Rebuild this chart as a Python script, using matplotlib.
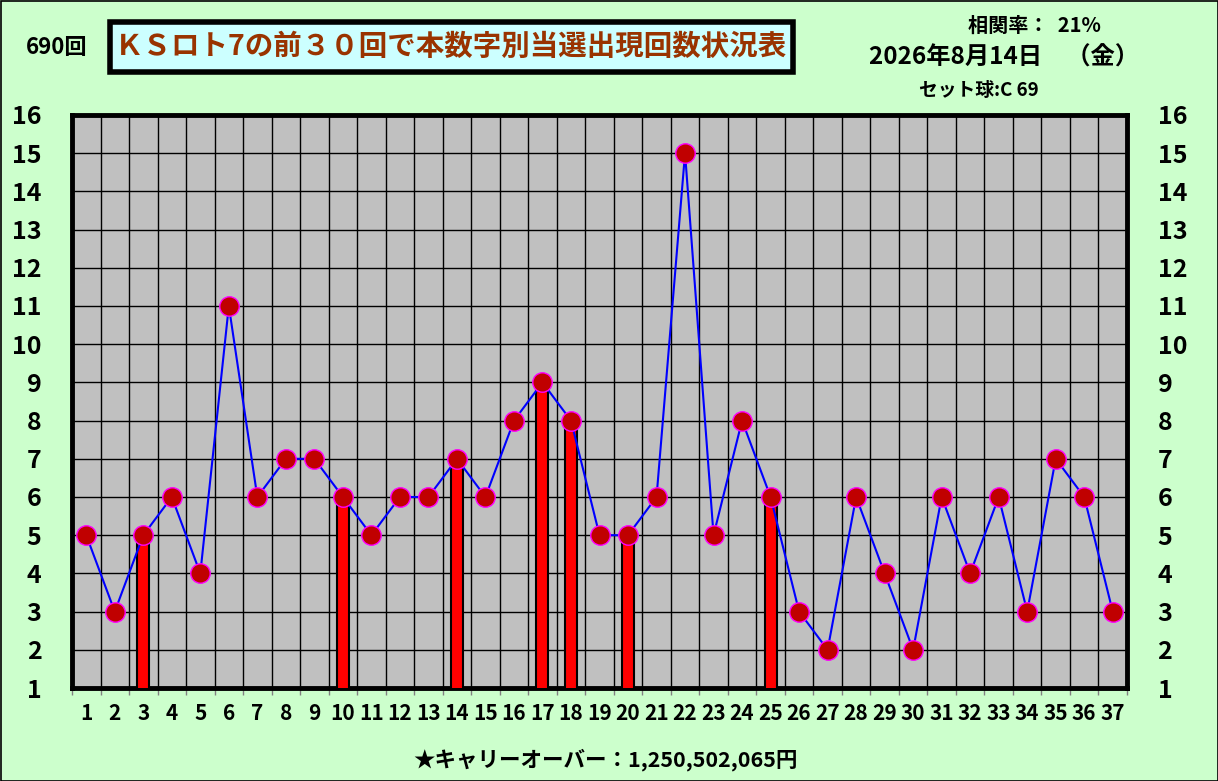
import matplotlib
matplotlib.use("Agg")
import matplotlib.pyplot as plt
from matplotlib.patches import Rectangle
import numpy as np

plt.rcParams['font.family'] = ['Noto Sans CJK JP', 'DejaVu Sans']

numbers = list(range(1, 38))
counts = [5, 3, 5, 6, 4, 11, 6, 7, 7, 6, 5, 6, 6, 7, 6, 8, 9, 8, 5, 5,
          6, 15, 5, 8, 6, 3, 2, 6, 4, 2, 6, 4, 6, 3, 7, 6, 3]
winning = [3, 10, 14, 17, 18, 20, 25]
y_ticks = list(range(1, 17))

title = "ＫＳロト7の前３０回で本数字別当選出現回数状況表"
round_label = "690回"
corr_label = "相関率：  21%"
date_label = "2026年8月14日　（金）"
set_label = "セット球:C 69"
carry_label = "★キャリーオーバー：1,250,502,065円"

BG = "#CCFFCC"
fig = plt.figure(figsize=(12.18, 7.81), dpi=100, facecolor=BG)
ax = fig.add_axes([72/1218, 1-688/781, (1127-72)/1218, (688-115)/781])
ax.set_facecolor("#C0C0C0")

win_vals = [counts[n-1] for n in winning]
ax.bar(winning, win_vals, width=0.42, color="#FF0000", edgecolor="black",
       linewidth=1.5, zorder=3)
ax.plot(numbers, counts, color="#0000FF", linewidth=1.5, zorder=4,
        marker="o", markersize=14, markerfacecolor="#C00000",
        markeredgecolor="#FF00FF", markeredgewidth=1.0)

ax.set_xlim(0.5, 37.5)
ax.set_ylim(1, 16)
ax.set_yticks(y_ticks)
ax.set_yticklabels([str(v) for v in y_ticks])
ax.set_xticks(numbers)
ax.set_xticklabels([str(n) for n in numbers])
ax.set_xticks(np.arange(0.5, 38, 1), minor=True)
ax.grid(True, which="minor", axis="x", color="black", linewidth=1.0, zorder=1)
ax.grid(True, which="major", axis="y", color="black", linewidth=1.0, zorder=1)
ax.set_axisbelow(True)

ax.tick_params(axis="y", which="both", length=0, labelsize=18, pad=22,
               labelright=True, labelleft=True)
ax.tick_params(axis="x", which="major", length=0, labelsize=15, pad=11)
ax.tick_params(axis="x", which="minor", length=5, color="#808080", width=1)
for lbl in ax.get_xticklabels() + ax.get_yticklabels():
    lbl.set_fontweight("bold")
for s in ax.spines.values():
    s.set_linewidth(3.5)
    s.set_color("black")

# title box
fig.patches.append(Rectangle((110/1218, 1-72/781), (793-110)/1218, 50/781,
                             transform=fig.transFigure, facecolor="#CCFFFF",
                             edgecolor="black", linewidth=4, zorder=1))
fig.text(451/1218, 1-47/781, title, ha="center", va="center", fontsize=20.5,
         fontweight="bold", color="#993300")
fig.text(57/1218, 1-47/781, round_label, ha="center", va="center", fontsize=16,
         fontweight="bold", color="black")
fig.text(1034/1218, 1-25/781, corr_label, ha="center", va="center", fontsize=14.5,
         fontweight="bold")
fig.text(1004/1218, 1-58/781, date_label, ha="center", va="center", fontsize=17.5,
         fontweight="bold")
fig.text(979/1218, 1-90/781, set_label, ha="center", va="center", fontsize=13.5,
         fontweight="bold")
fig.text(605/1218, 1-760/781, carry_label, ha="center", va="center", fontsize=15.5,
         fontweight="bold")

fig.patches.append(Rectangle((0.5/1218, 0.5/781), 1-1/1218, 1-1/781,
                             transform=fig.transFigure, facecolor="none",
                             edgecolor="black", linewidth=1.2, zorder=0))

fig.savefig("out.png", dpi=100, facecolor=BG)
